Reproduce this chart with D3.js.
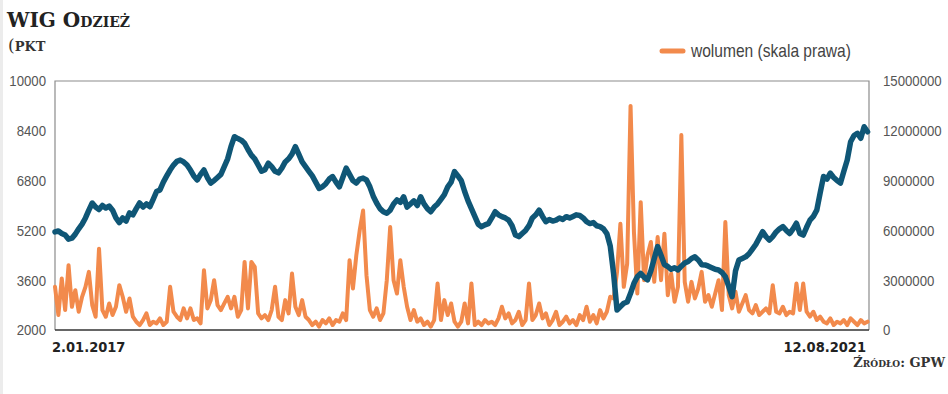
<!DOCTYPE html>
<html>
<head>
<meta charset="utf-8">
<script src="https://cdn.jsdelivr.net/npm/d3@7"></script>
<style>
  html, body { margin: 0; padding: 0; background: #fff; }
  svg { display: block; }
</style>
</head>
<body>
<svg id="chart" width="948" height="394"></svg>
<script>
// ---------- DATA ----------
const titleText = "WIG Odzież";
const unitParen = "(";
const unitText = "pkt";
const legendText = "wolumen (skala prawa)";
const sourceText = "Źródło: GPW";
const startDate = "2017-01-02";
const endDate = "2021-08-12";
const startLabel = "2.01.2017";
const endLabel = "12.08.2021";
const leftTicks = [2000, 3600, 5200, 6800, 8400, 10000];
const rightTicks = [0, 3000000, 6000000, 9000000, 12000000, 15000000];

// WIG Odzież index, weekly readings (points)
const indexValues = [
  5150,5180,5100,5050,4920,4950,5080,5250,5400,5600,
  5850,6080,5950,5870,6000,5920,5980,5850,5600,5450,
  5600,5500,5760,5700,5900,6080,5950,6050,5960,6200,
  6450,6500,6750,6950,7140,7300,7420,7460,7400,7300,
  7140,6950,6820,7000,7140,6900,6720,6800,6900,7000,
  7250,7500,7900,8210,8150,8100,8000,7800,7620,7500,
  7300,7100,7150,7360,7250,7100,7050,7200,7400,7500,
  7650,7890,7650,7400,7250,7100,6950,6750,6550,6600,
  6700,6850,6930,6750,6600,6900,7200,7000,6800,6720,
  6850,6880,6820,6600,6300,6080,5900,5800,5750,5850,
  6050,6180,6100,6280,5950,6050,6150,6000,6280,6050,
  5900,5800,5950,6050,6200,6350,6600,6750,7090,6950,
  6800,6450,6150,5900,5650,5400,5320,5380,5420,5600,
  5800,5700,5640,5600,5530,5350,5050,5000,5100,5200,
  5350,5600,5700,5850,5650,5480,5550,5500,5530,5600,
  5550,5640,5600,5650,5700,5680,5600,5480,5420,5450,
  5350,5320,5250,5100,4700,3800,2640,2750,2860,2900,
  3180,3500,3710,3820,3700,3610,3900,4300,4680,4400,
  4100,4040,3950,4000,3930,4050,4150,4200,4300,4350,
  4250,4100,4090,4050,4000,3950,3930,3850,3710,3400,
  3070,3900,4250,4300,4350,4450,4600,4750,4950,5160,
  5000,4890,5000,5150,5250,5320,5200,5100,5250,5430,
  5100,5050,5300,5530,5650,5850,6400,6930,6850,7040,
  6900,6800,6720,7100,7460,8050,8250,8320,8160,8530,
  8370
];

// Volume, weekly readings (millions of shares)
const volumeMillions = [
  2.6,0.9,3.1,1.2,3.9,1.4,2.4,1.1,2.0,2.6,
  3.5,1.5,0.8,4.9,1.2,0.8,1.6,0.9,1.4,2.7,
  2.0,1.1,1.9,0.8,0.5,0.3,0.6,1.0,0.3,0.5,
  0.4,0.7,0.3,0.5,2.6,1.1,0.8,0.6,1.3,0.7,
  1.3,0.6,0.7,0.4,3.6,1.3,1.8,3.0,1.5,1.2,
  1.6,2.0,1.3,2.0,0.8,1.2,4.1,1.3,4.1,3.8,
  1.0,0.7,0.9,0.6,1.2,2.6,0.8,0.6,1.8,1.0,
  3.4,1.4,0.9,1.8,0.8,0.6,0.3,0.5,0.2,0.6,
  0.4,0.7,0.3,0.6,0.5,1.0,0.6,4.2,2.5,4.5,
  6.0,7.2,3.3,1.2,0.8,1.3,0.6,1.0,3.0,6.2,
  3.0,2.2,4.2,2.6,1.4,0.6,1.2,0.5,0.7,0.3,
  0.5,0.2,0.6,2.8,0.6,1.8,0.9,1.6,0.5,0.2,
  0.5,1.6,0.4,2.8,0.3,0.5,0.3,0.6,0.4,0.5,
  0.3,0.7,1.4,0.7,1.0,0.4,0.6,1.1,0.3,0.6,
  2.8,0.6,0.9,1.6,0.7,1.0,0.3,0.6,1.1,0.3,
  0.5,0.8,0.4,0.6,0.3,0.9,0.6,1.4,0.5,0.9,
  0.4,1.2,0.7,1.1,2.0,1.9,3.5,6.4,2.6,4.0,
  13.5,5.9,2.2,7.7,3.0,4.5,5.3,2.9,5.6,3.0,
  5.8,2.1,3.4,1.7,2.6,11.75,2.9,1.7,2.9,1.9,
  2.5,3.5,1.7,2.1,1.4,2.2,3.0,1.2,6.5,2.1,
  1.3,2.3,1.1,1.6,2.1,1.2,1.0,1.5,0.9,1.1,
  1.3,1.0,2.7,1.1,1.0,1.4,0.9,1.1,1.0,2.8,
  1.2,2.8,1.1,0.8,1.1,0.6,0.8,0.5,0.4,0.7,
  0.3,0.5,0.4,0.6,0.3,0.7,0.5,0.3,0.6,0.4,
  0.5
];

// ---------- CHART ----------
const blue = "#0f5676";
const orange = "#f28a4c";
const sansFont = "'Liberation Sans', Arial, sans-serif";
const serifFont = "'DejaVu Serif', serif";
const squeeze = 0.88;

const svg = d3.select("#chart");
svg.append("rect").attr("width", 948).attr("height", 394).attr("fill", "#fff");
svg.append("rect").attr("x", 0).attr("y", 0).attr("width", 3).attr("height", 394).attr("fill", "#ececec");

const m = { left: 55, right: 869, top: 81, bottom: 330 };
const parse = d3.timeParse("%Y-%m-%d");
const t0 = parse(startDate), t1 = parse(endDate);
const dateAt = i => { const d = d3.timeDay.offset(t0, i * 7); return d > t1 ? t1 : d; };

const x = d3.scaleTime().domain([t0, t1]).range([m.left, m.right]);
const yL = d3.scaleLinear().domain([2000, 10000]).range([m.bottom, m.top]);
const yR = d3.scaleLinear().domain([0, 15000000]).range([m.bottom, m.top]);

// frame
svg.append("path")
  .attr("d", `M${m.left},${m.bottom}V${m.top}H${m.right}V${m.bottom}`)
  .attr("fill", "none").attr("stroke", "#8c8c8c").attr("stroke-width", 1.2);

// axes (labels only)
const leftAxis = d3.axisLeft(yL).tickValues(leftTicks).tickSize(0).tickPadding(0).tickFormat(d3.format("d"));
const rightAxis = d3.axisRight(yR).tickValues(rightTicks).tickSize(0).tickPadding(0).tickFormat(d3.format("d"));
const gL = svg.append("g").attr("transform", `translate(${m.left},0)`).call(leftAxis);
const gR = svg.append("g").attr("transform", `translate(${m.right},0)`).call(rightAxis);
gL.select(".domain").remove();
gR.select(".domain").remove();
gL.selectAll("text").attr("x", -9 / squeeze);
gR.selectAll("text").attr("x", 14 / squeeze);
[gL, gR].forEach(g => {
  g.selectAll("text")
    .attr("font-family", sansFont).attr("font-size", 15).attr("fill", "#555")
    .attr("dy", "0.33em").attr("transform", `scale(${squeeze},1)`);
});

// volume line
const vData = volumeMillions.map((v, i) => ({ d: dateAt(i), v: v * 1e6 }));
svg.append("path").datum(vData)
  .attr("fill", "none").attr("stroke", orange).attr("stroke-width", 4)
  .attr("stroke-linejoin", "round").attr("stroke-linecap", "round")
  .attr("d", d3.line().x(p => x(p.d)).y(p => yR(p.v)));

// index line
const iData = indexValues.map((v, i) => ({ d: dateAt(i), v }));
svg.append("path").datum(iData)
  .attr("fill", "none").attr("stroke", blue).attr("stroke-width", 5.5)
  .attr("stroke-linejoin", "round").attr("stroke-linecap", "round")
  .attr("d", d3.line().x(p => x(p.d)).y(p => yL(p.v)));

// bottom axis line
svg.append("line").attr("x1", m.left).attr("x2", m.right).attr("y1", m.bottom).attr("y2", m.bottom)
  .attr("stroke", "#333").attr("stroke-width", 1.5);

// date labels
const dateFont = "'DejaVu Sans Condensed', sans-serif";
svg.append("text").attr("x", x(t0) - 3).attr("y", 352).text(startLabel)
  .attr("font-family", dateFont).attr("font-weight", "bold")
  .attr("font-size", 14.5).attr("fill", "#222");
svg.append("text").attr("x", x(t1) - 3).attr("y", 352).attr("text-anchor", "end").text(endLabel)
  .attr("font-family", dateFont).attr("font-weight", "bold")
  .attr("font-size", 14.5).attr("fill", "#222");

// title
svg.append("text").attr("x", 7).attr("y", 27).text(titleText)
  .attr("font-family", serifFont).attr("font-weight", "bold").attr("font-size", 20)
  .style("font-variant", "small-caps").attr("fill", "#222");
const unit = svg.append("text").attr("x", 8).attr("y", 51)
  .attr("font-family", serifFont).attr("fill", "#333");
unit.append("tspan").text(unitParen).attr("font-size", 17).attr("font-weight", "normal");
unit.append("tspan").text(unitText).attr("font-size", 18.5).attr("font-weight", "bold")
  .style("font-variant", "small-caps");

// legend
svg.append("line").attr("x1", 662).attr("x2", 683).attr("y1", 51).attr("y2", 51)
  .attr("stroke", orange).attr("stroke-width", 5).attr("stroke-linecap", "round");
svg.append("text").attr("x", 691 / 0.865).attr("y", 57).text(legendText)
  .attr("transform", "scale(0.865,1)")
  .attr("font-family", sansFont).attr("font-size", 18).attr("fill", "#444");

// source
svg.append("text").attr("x", 945).attr("y", 367).attr("text-anchor", "end").text(sourceText)
  .attr("font-family", serifFont).attr("font-weight", "bold").attr("font-size", 13)
  .style("font-variant", "small-caps").attr("fill", "#333");
</script>
</body>
</html>
